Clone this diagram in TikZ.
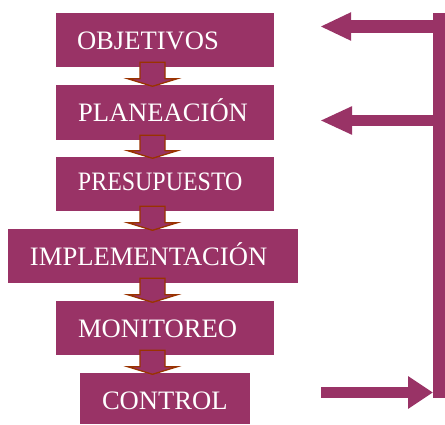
\documentclass[tikz,border=0pt]{standalone}
\usepackage{fontspec}
\setmainfont{Liberation Serif}
\usetikzlibrary{calc,arrows.meta}
\definecolor{plum}{RGB}{153,51,102}
\definecolor{rust}{RGB}{153,51,0}
\newcommand\smallarr[2]{%
  \draw[smarr] ($(ax |- #1.south)+(-12.5,5)$) -- ($(ax |- #1.south)+(12.5,5)$)
    -- ($(ax |- #2.north)+(12.5,6)$) -- ($(ax |- #2.north)+(24.5,6)$)
    -- ($(ax |- #2.north)+(0,-1.5)$) -- ($(ax |- #2.north)+(-24.5,6)$)
    -- ($(ax |- #2.north)+(-12.5,6)$) -- cycle;}
\begin{document}
\begin{tikzpicture}[x=1pt,y=1pt,
  box/.style={fill=plum, draw=none, inner sep=0pt, minimum height=54pt},
  lbl/.style={text=white, inner sep=0pt, anchor=base west, font=\fontsize{26.6}{30}\selectfont},
  smarr/.style={fill=plum, draw=rust, line width=1.3pt, line join=miter},
  bigarr/.style={draw=plum, line cap=butt}]
\useasboundingbox (0,0) rectangle (445,424);
\coordinate (ax) at (152.5,0);
% boxes
\node[box, minimum width=218pt] (obj) at (165,384) {};
\node[box, minimum width=218pt, minimum height=55pt] (plan) at (165,311.5) {};
\node[box, minimum width=218pt] (pres) at (165,240) {};
\node[box, minimum width=290pt] (impl) at (153,168) {};
\node[box, minimum width=218pt] (moni) at (165,96) {};
\node[box, minimum width=170pt, minimum height=51pt] (ctrl) at (165,25.5) {};
% labels
\node[lbl] (tobj) at ($(obj.north west)+(21,-37)$) {OBJETIVOS};
\node[lbl] (tplan) at ($(plan.north west)+(22,-37)$) {PLANEACIÓN};
\node[lbl, xscale=0.9] (tpres) at ($(pres.north west)+(22,-34)$) {PRESUPUESTO};
\node[lbl] (timpl) at ($(impl.north west)+(22,-37)$) {IMPLEMENTACIÓN};
\node[lbl] (tmoni) at ($(moni.north west)+(22,-37)$) {MONITOREO};
\node[lbl] (tctrl) at ($(ctrl.north west)+(22,-37)$) {CONTROL};
% small arrows
\smallarr{obj}{plan}
\smallarr{plan}{pres}
\smallarr{pres}{impl}
\smallarr{impl}{moni}
\smallarr{moni}{ctrl}
% feedback loop
\fill[plum] (433,26) rectangle (445,411);
\coordinate (fbout) at (321,31.5);
\coordinate (fbin) at (433,31.5);
\coordinate (r1s) at (434,397.5);
\coordinate (r1e) at (320,397.5);
\coordinate (r2s) at (434,303.5);
\coordinate (r2e) at (320,303.5);
\draw[bigarr, line width=11pt, -{Triangle[length=25pt,width=31pt]}] (fbout) -- (fbin);
\draw[bigarr, line width=13pt, -{Triangle[length=31pt,width=26pt]}] (r1s) -- (r1e);
\draw[bigarr, line width=11pt, -{Triangle[length=32pt,width=26pt]}] (r2s) -- (r2e);
\end{tikzpicture}
\end{document}
